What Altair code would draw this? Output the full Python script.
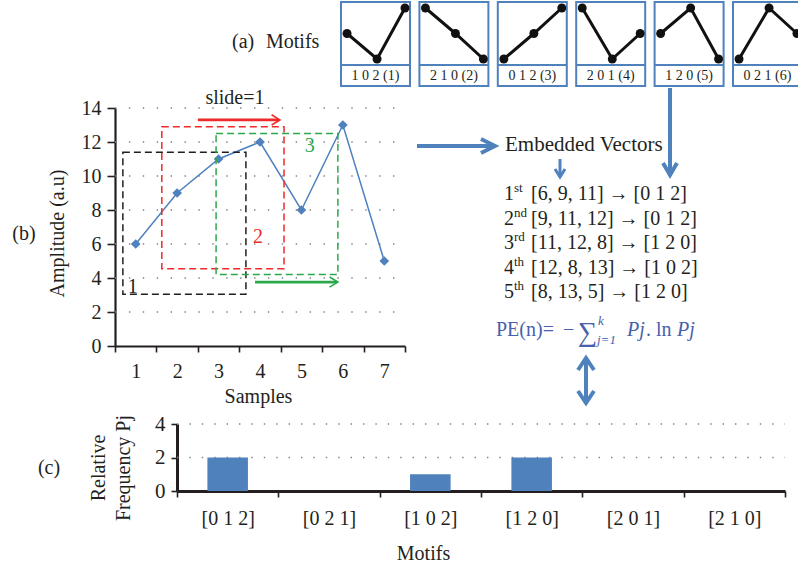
import altair as alt
import pandas as pd

W, H = 798, 569
SERIF = "Liberation Serif"
INK = "#231f20"
BLUE = "#4f81bd"
FORM = "#4761ab"
RED = "#ee2a2a"
GREEN = "#2ba84a"
GRID = "#808080"

# ---------------- data ----------------
samples = ["1", "2", "3", "4", "5", "6", "7"]
amplitude = [6, 9, 11, 12, 8, 13, 5]
amp_ticks = [0, 2, 4, 6, 8, 10, 12, 14]

motif_names = ["[0 1 2]", "[0 2 1]", "[1 0 2]", "[1 2 0]", "[2 0 1]", "[2 1 0]"]
rel_freq = [2, 0, 1, 2, 0, 0]
freq_ticks = [0, 2, 4]

panel_ranks = [[1, 0, 2], [2, 1, 0], [0, 1, 2], [2, 0, 1], [1, 2, 0], [0, 2, 1]]
panel_labels = ["1 0 2 (1)", "2 1 0 (2)", "0 1 2 (3)", "2 0 1 (4)", "1 2 0 (5)", "0 2 1 (6)"]

ordinal_num = ["1", "2", "3", "4", "5"]
ordinal_sfx = ["st", "nd", "rd", "th", "th"]
windows = ["[6, 9, 11]", "[9, 11, 12]", "[11, 12, 8]", "[12, 8, 13]", "[8, 13, 5]"]
patterns = ["[0 1 2]", "[0 1 2]", "[1 2 0]", "[1 0 2]", "[1 2 0]"]

# sliding windows drawn over panel (b), in sample / amplitude units
win_label = ["1", "2", "3"]
win_x0 = [0.69, 1.63, 2.94]
win_x1 = [3.66, 4.58, 5.88]
win_y0 = [3.05, 4.55, 4.2]
win_y1 = [11.4, 12.9, 12.5]
win_color = [INK, RED, GREEN]


# ---------------- scales ----------------
def lin(domain, rng):
    return alt.Scale(type="linear", domain=domain, range=rng, nice=False, zero=False)


XB_BAND = alt.Scale(type="band", domain=samples, range=[115, 405], paddingInner=0, paddingOuter=0)
XB = lin([0.5, 7.5], [115, 405])
YB = lin([0, 14], [346, 108])

XC_BAND = alt.Scale(type="band", domain=motif_names, range=[177, 785], paddingInner=0, paddingOuter=0)
XC = lin([0, 6], [177, 785])
YC = lin([0, 4], [491, 424])

XM = lin([0, 6], [341, 341 + 6 * 78.4])
YM = lin([0, 2], [59, 8])

XP = lin([0, W], [0, W])
YP = lin([0, H], [0, H])


def head(tx, ty, dx, dy, L, Wd, key):
    # open chevron at tip (tx, ty) for direction (dx, dy)
    n = (dx * dx + dy * dy) ** 0.5
    ux, uy = dx / n, dy / n
    px_, py_ = -uy, ux
    return [
        {"id": key, "k": 0, "x": tx - L * ux + Wd * px_, "y": ty - L * uy + Wd * py_},
        {"id": key, "k": 1, "x": tx, "y": ty},
        {"id": key, "k": 2, "x": tx - L * ux - Wd * px_, "y": ty - L * uy - Wd * py_},
    ]


layers = []

# ---------------- panel (b): line chart ----------------
grid_b = pd.DataFrame({"v": amp_ticks[1:], "x0": 0.5, "x1": 7.5})
layers.append(
    alt.Chart(grid_b).mark_rule(color=GRID, strokeWidth=1.4, strokeDash=[1.4, 12.5]).encode(
        x=alt.X("x0:Q", scale=XB, axis=None), x2="x1:Q", y=alt.Y("v:Q", scale=YB, axis=None)
    )
)

line_df = pd.DataFrame({"s": samples, "a": amplitude})
x_axis_b = alt.Axis(
    orient="bottom", offset=346 - H, tickBand="extent", domainColor=INK, domainWidth=2.2,
    tickColor=INK, tickWidth=1.6, tickSize=6, labelFont=SERIF, labelFontSize=20, labelColor=INK,
    labelPadding=9, labelAngle=0, grid=False, title="Samples", titleFont=SERIF, titleFontSize=20,
    titleFontWeight="normal", titleColor=INK, titleX=258, titleY=50, titleBaseline="middle",
)
y_axis_b = alt.Axis(
    orient="left", offset=-115, values=amp_ticks, domainColor=INK, domainWidth=2.2, tickColor=INK,
    tickWidth=1.6, tickSize=8, labelFont=SERIF, labelFontSize=20, labelColor=INK, labelPadding=6,
    grid=False, title="Amplitude (a.u)", titleFont=SERIF, titleFontSize=20, titleFontWeight="normal",
    titleColor=INK, titleX=-58, titleY=233, titleAngle=270, titleBaseline="middle", titleAlign="center",
)
layers.append(
    alt.Chart(line_df).mark_line(color=BLUE, strokeWidth=1.5).encode(
        x=alt.X("s:O", scale=XB_BAND, axis=x_axis_b), y=alt.Y("a:Q", scale=YB, axis=y_axis_b)
    )
)
layers.append(
    alt.Chart(line_df).mark_point(shape="diamond", filled=True, size=95, color=BLUE, opacity=1).encode(
        x=alt.X("s:O", scale=XB_BAND, axis=None), y=alt.Y("a:Q", scale=YB, axis=None)
    )
)

win_df = pd.DataFrame({"x0": win_x0, "x1": win_x1, "y0": win_y0, "y1": win_y1, "c": win_color})
layers.append(
    alt.Chart(win_df).mark_rect(fillOpacity=0, strokeWidth=1.5, strokeDash=[7, 4]).encode(
        x=alt.X("x0:Q", scale=XB, axis=None), x2="x1:Q",
        y=alt.Y("y0:Q", scale=YB, axis=None), y2="y1:Q",
        stroke=alt.Stroke("c:N", scale=None),
    )
)

# slide arrows (red above, green below)
slide_df = pd.DataFrame({"x0": [2.5, 3.88], "x1": [4.46, 5.86], "y": [13.3, 3.76], "c": [RED, GREEN]})
layers.append(
    alt.Chart(slide_df).mark_rule(strokeWidth=2.6).encode(
        x=alt.X("x0:Q", scale=XB, axis=None), x2="x1:Q", y=alt.Y("y:Q", scale=YB, axis=None),
        color=alt.Color("c:N", scale=None),
    )
)
sh = []
for key, (x1, yv, c) in enumerate(zip([4.48, 5.88], [13.3, 3.76], [RED, GREEN])):
    for p in head(x1, yv, 1, 0, 0.2, 0.3, key):
        p["c"] = c
        sh.append(p)
layers.append(
    alt.Chart(pd.DataFrame(sh)).mark_line(strokeWidth=1.6).encode(
        x=alt.X("x:Q", scale=XB, axis=None), y=alt.Y("y:Q", scale=YB, axis=None),
        detail="id:N", order="k:Q", color=alt.Color("c:N", scale=None),
    )
)

wl_df = pd.DataFrame({"t": win_label, "x": [0.93, 3.95, 5.2], "y": [3.45, 6.4, 11.75], "c": win_color})
layers.append(
    alt.Chart(wl_df).mark_text(font=SERIF, fontSize=20, baseline="middle", align="center").encode(
        x=alt.X("x:Q", scale=XB, axis=None), y=alt.Y("y:Q", scale=YB, axis=None), text="t:N",
        color=alt.Color("c:N", scale=None),
    )
)

# ---------------- panel (c): bar chart ----------------
grid_c = pd.DataFrame({"v": freq_ticks[1:], "x0": 0.0, "x1": 6.0})
layers.append(
    alt.Chart(grid_c).mark_rule(color=GRID, strokeWidth=1.4, strokeDash=[1.4, 11]).encode(
        x=alt.X("x0:Q", scale=XC, axis=None), x2="x1:Q", y=alt.Y("v:Q", scale=YC, axis=None)
    )
)
bar_df = pd.DataFrame({"m": motif_names, "f": rel_freq})
x_axis_c = alt.Axis(
    orient="bottom", offset=491 - H, tickBand="extent", domainColor=INK, domainWidth=3,
    tickColor=INK, tickWidth=1.6, tickSize=6, labelFont=SERIF, labelFontSize=20, labelColor=INK,
    labelPadding=11, labelAngle=0, grid=False, title="Motifs", titleFont=SERIF, titleFontSize=20,
    titleFontWeight="normal", titleColor=INK, titleX=423, titleY=62, titleBaseline="middle",
)
y_axis_c = alt.Axis(
    orient="left", offset=-177, values=freq_ticks, domainColor=INK, domainWidth=3, tickColor=INK,
    tickWidth=1.6, tickSize=6, labelFont=SERIF, labelFontSize=21, labelColor=INK, labelPadding=6,
    grid=False, title=None,
)
layers.append(
    alt.Chart(bar_df).mark_bar(width=alt.RelativeBandSize(0.4), color=BLUE).encode(
        x=alt.X("m:N", scale=XC_BAND, axis=x_axis_c, sort=motif_names),
        y=alt.Y("f:Q", scale=YC, axis=y_axis_c),
    )
)

# ---------------- panel (a): motif boxes ----------------
box_df = pd.DataFrame({"x0": [i for i in range(6)], "x1": [i + 0.88 for i in range(6)],
                       "y0": -1.06, "y1": 2.235, "yd": -0.235})
layers.append(
    alt.Chart(box_df).mark_rect(fill="white", stroke=BLUE, strokeWidth=2).encode(
        x=alt.X("x0:Q", scale=XM, axis=None), x2="x1:Q", y=alt.Y("y0:Q", scale=YM, axis=None), y2="y1:Q"
    )
)
layers.append(
    alt.Chart(box_df).mark_rule(color=BLUE, strokeWidth=2).encode(
        x=alt.X("x0:Q", scale=XM, axis=None), x2="x1:Q", y=alt.Y("yd:Q", scale=YM, axis=None)
    )
)
offs = [0.077, 0.46, 0.816]
mrows = []
for i, ranks in enumerate(panel_ranks):
    for k, r in enumerate(ranks):
        mrows.append({"id": i, "k": k, "x": i + offs[k], "r": r})
mdf = pd.DataFrame(mrows)
layers.append(
    alt.Chart(mdf).mark_line(color="#111111", strokeWidth=3).encode(
        x=alt.X("x:Q", scale=XM, axis=None), y=alt.Y("r:Q", scale=YM, axis=None), detail="id:N", order="k:Q"
    )
)
layers.append(
    alt.Chart(mdf).mark_point(shape="circle", filled=True, size=80, color="#111111", opacity=1).encode(
        x=alt.X("x:Q", scale=XM, axis=None), y=alt.Y("r:Q", scale=YM, axis=None)
    )
)
ml_df = pd.DataFrame({"t": panel_labels, "x": [i + 0.44 for i in range(6)], "y": -0.66})
layers.append(
    alt.Chart(ml_df).mark_text(font=SERIF, fontSize=14, color=INK, align="center", baseline="middle").encode(
        x=alt.X("x:Q", scale=XM, axis=None), y=alt.Y("y:Q", scale=YM, axis=None), text="t:N"
    )
)

# ---------------- blue flow arrows ----------------
arrows = [  # x1, y1, x2, y2, width, head length, head half-width, double
    (417, 146, 495, 146, 4, 14, 7, False),
    (560, 159, 560, 177, 3, 8, 5, False),
    (670, 88, 670, 175, 4, 12, 7, False),
    (586, 358, 586, 403, 4, 12, 8, True),
]
shaft = []
heads = []
for n, (x1, y1, x2, y2, w, L, hw, dbl) in enumerate(arrows):
    shaft.append({"x1": x1, "y1": y1, "x2": x2, "y2": y2, "w": w})
    for p in head(x2, y2, x2 - x1, y2 - y1, L, hw, f"a{n}"):
        p["w"] = w
        heads.append(p)
    if dbl:
        for p in head(x1, y1, x1 - x2, y1 - y2, L, hw, f"b{n}"):
            p["w"] = w
            heads.append(p)
layers.append(
    alt.Chart(pd.DataFrame(shaft)).mark_rule(color=BLUE).encode(
        x=alt.X("x1:Q", scale=XP, axis=None), x2="x2:Q", y=alt.Y("y1:Q", scale=YP, axis=None), y2="y2:Q",
        strokeWidth=alt.StrokeWidth("w:Q", scale=None),
    )
)
layers.append(
    alt.Chart(pd.DataFrame(heads)).mark_line(color=BLUE, strokeJoin="miter").encode(
        x=alt.X("x:Q", scale=XP, axis=None), y=alt.Y("y:Q", scale=YP, axis=None),
        detail="id:N", order="k:Q", strokeWidth=alt.StrokeWidth("w:Q", scale=None),
    )
)

# ---------------- texts ----------------
row_y = [194, 218.5, 243, 267.5, 292]
left_rows = [
    {"t": "(a)", "x": 232, "y": 42, "s": 20, "c": INK},
    {"t": "Motifs", "x": 266, "y": 42, "s": 20, "c": INK},
    {"t": "Embedded Vectors", "x": 505, "y": 145, "s": 21, "c": INK},
    {"t": "PE(n)=", "x": 496, "y": 330, "s": 20, "c": FORM},
    {"t": "\u2212", "x": 563, "y": 330, "s": 20, "c": FORM},
    {"t": "\u2211", "x": 578, "y": 333, "s": 27, "c": FORM},
    {"t": ".", "x": 646, "y": 330, "s": 20, "c": FORM},
    {"t": "ln", "x": 656, "y": 330, "s": 20, "c": FORM},
]
for i in range(5):
    left_rows.append({"t": ordinal_num[i], "x": 504, "y": row_y[i], "s": 20, "c": INK})
    left_rows.append({"t": ordinal_sfx[i], "x": 514, "y": row_y[i] - 6, "s": 13, "c": INK})
    left_rows.append({"t": f"{windows[i]} \u2192 {patterns[i]}", "x": 531, "y": row_y[i], "s": 20, "c": INK})
layers.append(
    alt.Chart(pd.DataFrame(left_rows)).mark_text(font=SERIF, align="left", baseline="middle").encode(
        x=alt.X("x:Q", scale=XP, axis=None), y=alt.Y("y:Q", scale=YP, axis=None), text="t:N",
        size=alt.Size("s:Q", scale=None), color=alt.Color("c:N", scale=None),
    )
)
ital_rows = [
    {"t": "k", "x": 598, "y": 321, "s": 13},
    {"t": "j=1", "x": 597, "y": 340, "s": 13},
    {"t": "Pj", "x": 627, "y": 330, "s": 20},
    {"t": "Pj", "x": 677, "y": 330, "s": 20},
]
layers.append(
    alt.Chart(pd.DataFrame(ital_rows)).mark_text(font=SERIF, fontStyle="italic", align="left",
                                                 baseline="middle", color=FORM).encode(
        x=alt.X("x:Q", scale=XP, axis=None), y=alt.Y("y:Q", scale=YP, axis=None), text="t:N",
        size=alt.Size("s:Q", scale=None),
    )
)
center_rows = [
    {"t": "(b)", "x": 24, "y": 234},
    {"t": "(c)", "x": 49, "y": 468},
    {"t": "slide=1", "x": 235, "y": 98},
]
layers.append(
    alt.Chart(pd.DataFrame(center_rows)).mark_text(font=SERIF, fontSize=20, align="center",
                                                   baseline="middle", color=INK).encode(
        x=alt.X("x:Q", scale=XP, axis=None), y=alt.Y("y:Q", scale=YP, axis=None), text="t:N"
    )
)
rot_rows = [
    {"t": "Relative", "x": 99, "y": 468},
    {"t": "Frequency Pj", "x": 124, "y": 468},
]
layers.append(
    alt.Chart(pd.DataFrame(rot_rows)).mark_text(font=SERIF, fontSize=20, align="center",
                                                baseline="middle", angle=270, color=INK).encode(
        x=alt.X("x:Q", scale=XP, axis=None), y=alt.Y("y:Q", scale=YP, axis=None), text="t:N"
    )
)

chart = (
    alt.layer(*layers)
    .resolve_scale(x="independent", y="independent")
    .properties(width=W, height=H, autosize=alt.AutoSizeParams(type="none"), padding=0, background="white")
    .configure_view(stroke=None)
)
chart.save("out.html", embed_options={"renderer": "svg", "actions": False})
